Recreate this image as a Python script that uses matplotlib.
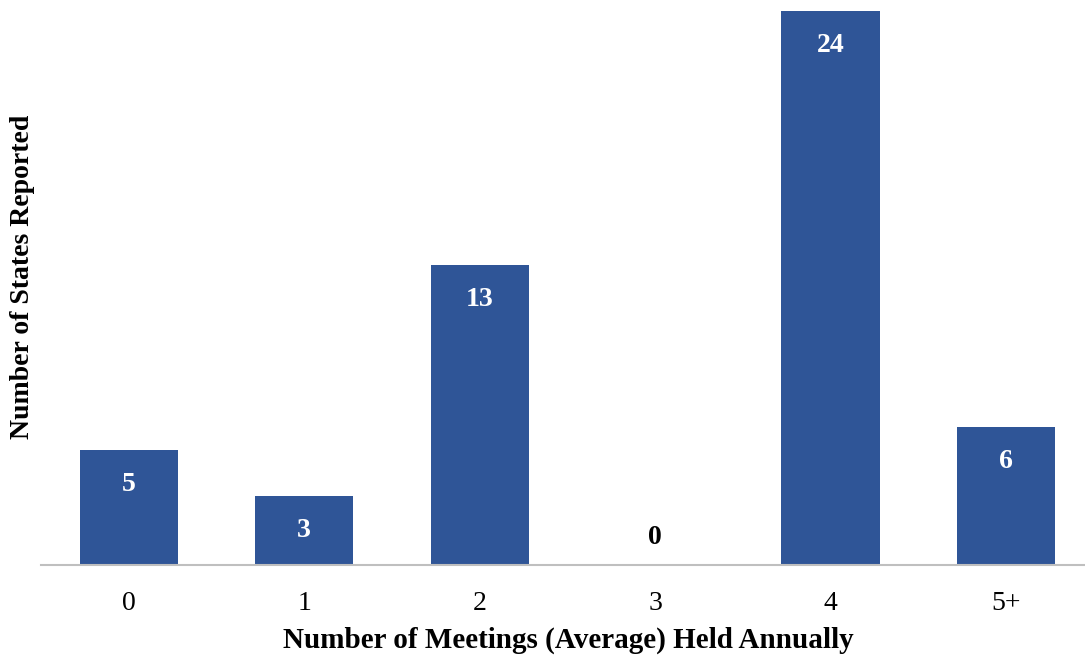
import matplotlib.pyplot as plt
import numpy as np

categories = ['0', '1', '2', '3', '4', '5+']
states = [5, 3, 13, 0, 24, 6]

plt.rcParams['font.family'] = ['Liberation Serif', 'DejaVu Serif']

fig = plt.figure(figsize=(10.85, 6.58), dpi=100)
ax = fig.add_axes([41 / 1085, 93 / 658, 1044 / 1085, 554 / 658])

x = np.arange(len(categories))
bars = ax.bar(x, states, width=0.56, color='#2F5597')

for xi, v in zip(x, states):
    if v > 0:
        ax.annotate(str(v), (xi, v), xytext=(0, -25), textcoords='offset points',
                    ha='center', va='center', color='white', fontsize=20, fontweight='bold')
    else:
        ax.annotate(str(v), (xi, v), xytext=(0, 20), textcoords='offset points',
                    ha='center', va='center', color='black', fontsize=20, fontweight='bold')

ax.set_xlim(-0.5, 5.45)
ax.set_ylim(0, 24)
ax.set_xticks(x)
ax.set_xticklabels(categories, fontsize=20)
ax.set_yticks([])
ax.tick_params(axis='x', length=0, pad=19)

for s in ['top', 'right', 'left']:
    ax.spines[s].set_visible(False)
ax.spines['bottom'].set_color('#bfbfbf')
ax.spines['bottom'].set_linewidth(1.5)

ax.set_xlabel('Number of Meetings (Average) Held Annually', fontsize=21, fontweight='bold')
ax.xaxis.set_label_coords(0.505, -0.112)
ax.set_ylabel('Number of States Reported', fontsize=20, fontweight='bold')
ax.yaxis.set_label_coords(-0.006, 0.52)

fig.savefig('out.png', dpi=100)
